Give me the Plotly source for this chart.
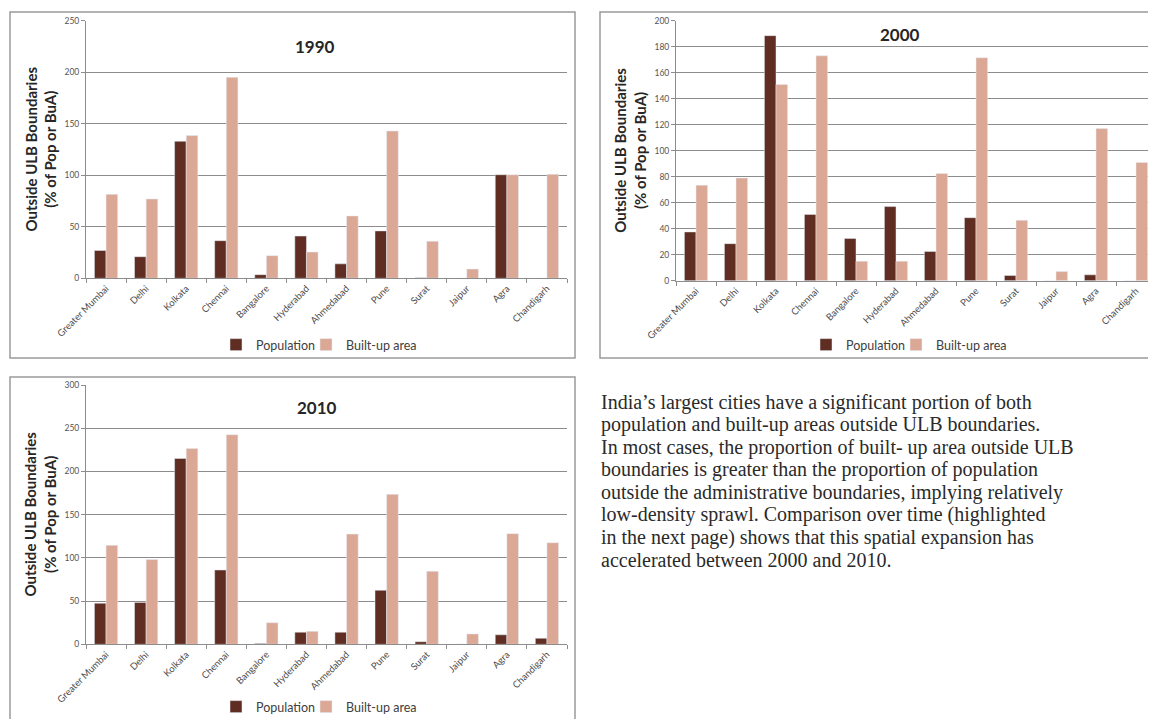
import plotly.graph_objects as go

cities = ["Greater Mumbai", "Delhi", "Kolkata", "Chennai", "Bangalore", "Hyderabad",
          "Ahmedabad", "Pune", "Surat", "Jaipur", "Agra", "Chandigarh"]

pop_1990 = [27, 21, 133, 36.5, 3.5, 41, 14, 46, 0.6, 0, 100.5, 0]
bua_1990 = [81.5, 77, 138.5, 195, 22, 25.5, 60.5, 143, 36, 9, 100.5, 101]

pop_2000 = [37.5, 28.5, 188.5, 51, 32.5, 57, 22.5, 48.5, 4, 0, 4.5, 0]
bua_2000 = [73.5, 79, 151, 173, 15, 15, 82.5, 171.5, 46.5, 7, 117, 91]

pop_2010 = [47.5, 48.5, 215, 86, 0.8, 14, 14, 62.5, 3, 0, 11, 7]
bua_2010 = [114.5, 98, 226.5, 242.5, 25, 15, 127.5, 173.5, 84.5, 12, 128, 117.5]

years = ["1990", "2000", "2010"]
y_max = [250, 200, 300]
y_step = [50, 20, 50]

body_lines = [
    "India’s largest cities have a significant portion of both",
    "population and built-up areas outside ULB boundaries.",
    "In most cases, the proportion of built- up area outside ULB",
    "boundaries is greater than the proportion of population",
    "outside the administrative boundaries, implying relatively",
    "low-density sprawl. Comparison over time (highlighted",
    "in the next page) shows that this spatial expansion has",
    "accelerated between 2000 and 2010.",
]

POP_COLOR = "#5f2d22"
BUA_COLOR = "#dba895"
GRID = "#8c8c8c"
OFF = 8                      # page margin around the plot div
W, H = 1156 - OFF, 719 - OFF

def px_x(v):
    return (v - OFF) / W

def px_y(v):
    return 1 - (v - OFF) / H

fig = go.Figure()

# legend anchor positions in reference pixels: (population x, built-up x, y)
legend_pos = [(216, 306, 345), (806, 896, 345), (216, 306, 707)]

series = [(pop_1990, bua_1990), (pop_2000, bua_2000), (pop_2010, bua_2010)]
for i, (p, b) in enumerate(series):
    sfx = "" if i == 0 else str(i + 1)
    leg_p = "legend" if i == 0 else "legend" + str(2 * i + 1)
    leg_b = "legend" + str(2 * i + 2)
    fig.add_trace(go.Bar(x=cities, y=p, name="Population", marker_color=POP_COLOR,
                         xaxis="x" + sfx, yaxis="y" + sfx, legend=leg_p))
    fig.add_trace(go.Bar(x=cities, y=b, name="Built-up area", marker_color=BUA_COLOR,
                         xaxis="x" + sfx, yaxis="y" + sfx, legend=leg_b))

# geometry in reference pixels: (x0, x1, ytop, ybottom)
plots = [(86, 567, 20.7, 278.3), (676, 1156, 20.7, 280.7), (86, 567, 385, 644.3)]

ytick_font = dict(family="Lato, sans-serif", size=8.5, color="#555555")
xtick_font = dict(family="Lato, sans-serif", size=9.5, color="#4d4d4d")
for i, (x0, x1, yt, yb) in enumerate(plots):
    sfx = "" if i == 0 else str(i + 1)
    fig.layout["xaxis" + sfx] = dict(
        domain=[px_x(x0), min(1, px_x(x1))], anchor="y" + sfx, type="category",
        range=[-0.5, 11.5], tickangle=-45, tickfont=xtick_font,
        ticks="outside", tickson="boundaries", ticklen=4, tickcolor=GRID,
        showline=True, linecolor=GRID, linewidth=1, showgrid=False, fixedrange=True,
        automargin=False)
    fig.layout["yaxis" + sfx] = dict(
        domain=[px_y(yb), px_y(yt)], anchor="x" + sfx, range=[0, y_max[i]],
        dtick=y_step[i], tickfont=ytick_font, ticks="outside", ticklen=4,
        tickcolor=GRID, showline=True, linecolor=GRID, linewidth=1,
        showgrid=True, gridcolor=GRID, gridwidth=1, zeroline=False, fixedrange=True,
        automargin=False)

# chart frames
frame = dict(type="rect", xref="paper", yref="paper",
             line=dict(color="#9a9a9a", width=1.5), fillcolor="rgba(0,0,0,0)", layer="below")
fig.add_shape(**frame, x0=px_x(10), x1=px_x(575), y0=px_y(358), y1=px_y(12))
fig.add_shape(**frame, x0=px_x(600), x1=1.02, y0=px_y(358), y1=px_y(12))
fig.add_shape(**frame, x0=px_x(10), x1=px_x(575), y0=-0.03, y1=px_y(377))

title_font = dict(family="Lato, sans-serif", size=17, color="#262626")
ytitle_font = dict(family="Lato, sans-serif", size=15, color="#262626")
titles = [(315, 46), (900, 35), (317, 407)]
ytitles = [(40, 149.5), (630, 150.7), (40, 514.6)]
for i in range(3):
    fig.add_annotation(x=px_x(titles[i][0]), y=px_y(titles[i][1]), xref="paper", yref="paper",
                       xanchor="center", yanchor="middle",
                       text="<b>" + years[i] + "</b>", showarrow=False, font=title_font)
    fig.add_annotation(x=px_x(ytitles[i][0]), y=px_y(ytitles[i][1]), xref="paper", yref="paper",
                       xanchor="center", yanchor="middle",
                       text="<b>Outside ULB Boundaries<br>(% of Pop or BuA)</b>", textangle=-90,
                       showarrow=False, font=ytitle_font)

body_font = dict(family="Liberation Serif, serif", size=20, color="#2a2a2a")
for k, line in enumerate(body_lines):
    fig.add_annotation(x=px_x(599), y=px_y(402 + 22.6 * k), xref="paper", yref="paper",
                       xanchor="left", yanchor="middle", align="left", text=line,
                       showarrow=False, font=body_font)

legend_font = dict(family="Lato, sans-serif", size=12.5, color="#404040")
for i, (lx_p, lx_b, ly) in enumerate(legend_pos):
    for j, lx in enumerate((lx_p, lx_b)):
        n = 2 * i + j + 1
        name = "legend" if n == 1 else "legend" + str(n)
        fig.layout[name] = dict(orientation="h", x=px_x(lx), y=px_y(ly), xanchor="left",
                                yanchor="middle", xref="container", yref="container",
                                font=legend_font, bgcolor="rgba(0,0,0,0)",
                                itemwidth=30, tracegroupgap=0)

fig.update_layout(width=W, height=H, margin=dict(l=0, r=0, t=0, b=0, autoexpand=False),
                  paper_bgcolor="white", plot_bgcolor="white", barmode="group",
                  bargap=0.42, bargroupgap=0, showlegend=True)

fig.write_html("out.html")
